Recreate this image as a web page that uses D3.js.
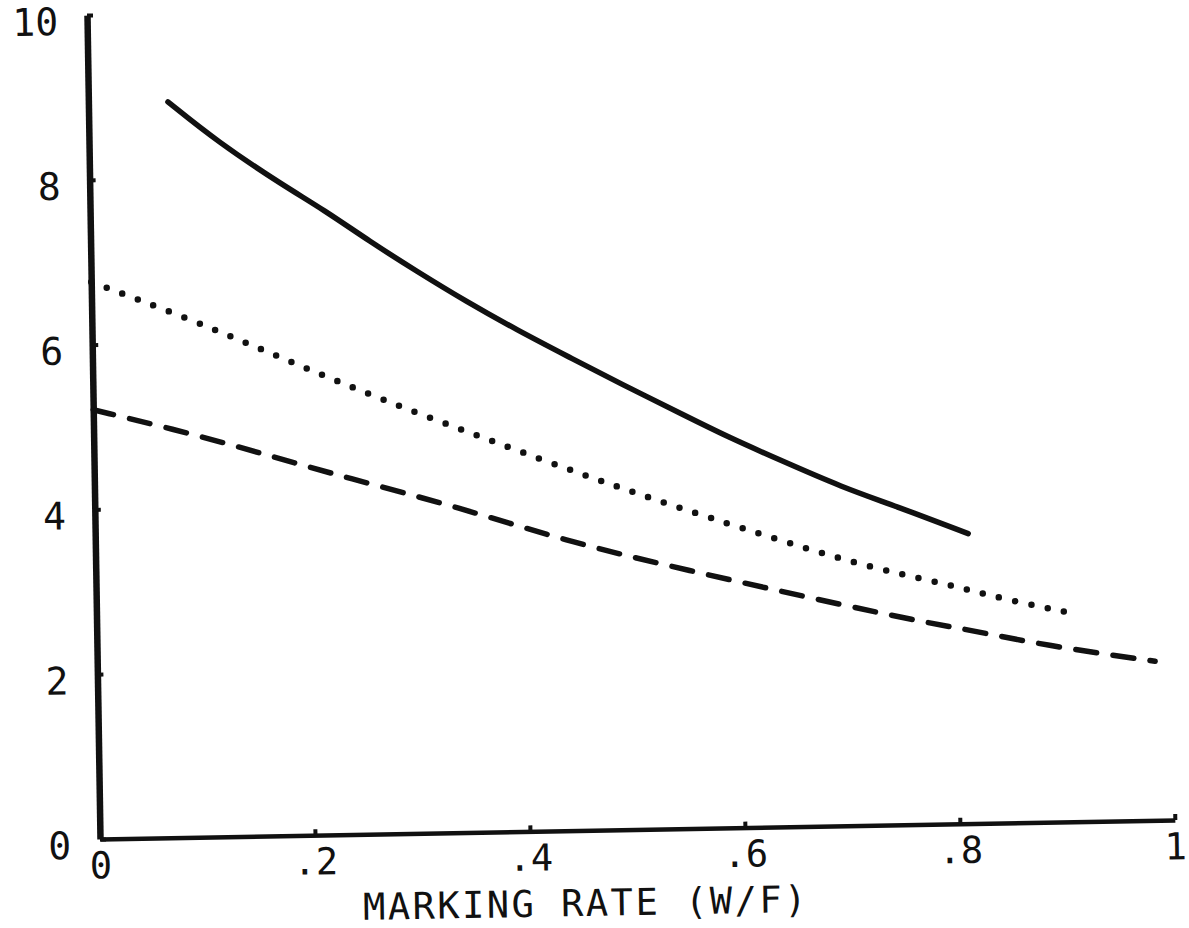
<!DOCTYPE html>
<html>
<head>
<meta charset="utf-8">
<script src="https://cdn.jsdelivr.net/npm/d3@7"></script>
<style>
  html, body { margin: 0; padding: 0; background: #fff; }
  svg text { font-family: "DejaVu Sans Mono", "Liberation Mono", monospace; fill: #111; }
</style>
</head>
<body>
<div id="chart"></div>
<script>
// values
const xTicks = [0, 0.2, 0.4, 0.6, 0.8, 1];
const xTickLabels = ['0', '.2', '.4', '.6', '.8', '1'];
const yTicks = [0, 2, 4, 6, 8, 10];
const yTickLabels = ['0', '2', '4', '6', '8', '10'];
const xTitle = 'MARKING RATE (W/F)';

// solid curve
const solidX = [0.074, 0.119, 0.180, 0.217, 0.260, 0.303, 0.349, 0.395, 0.443, 0.490, 0.552, 0.589, 0.635, 0.697, 0.743, 0.812];
const solidY = [8.93, 8.44, 7.89, 7.59, 7.19, 6.82, 6.44, 6.09, 5.75, 5.42, 5.00, 4.75, 4.47, 4.10, 3.88, 3.52];

// dotted curve
const dottedX = [0, 0.084, 0.157, 0.231, 0.309, 0.389, 0.450, 0.506, 0.569, 0.641, 0.717, 0.795, 0.843, 0.908];
const dottedY = [6.76, 6.33, 5.91, 5.48, 5.06, 4.65, 4.34, 4.07, 3.78, 3.46, 3.14, 2.90, 2.72, 2.53];

// dashed curve
const dashedX = [0, 0.091, 0.162, 0.235, 0.338, 0.444, 0.552, 0.662, 0.770, 0.805, 0.884, 0.984];
const dashedY = [5.21, 4.90, 4.62, 4.33, 3.95, 3.49, 3.13, 2.78, 2.45, 2.37, 2.14, 1.93];

const width = 1189;
const height = 928;
const plotW = 1075;
const plotH = 824;

const svg = d3.select('#chart').append('svg')
  .attr('width', width)
  .attr('height', height);

// the page was scanned a little crooked, so the plot sits in a slightly skewed frame
const chart = svg.append('g')
  .attr('transform', 'matrix(0.99984,-0.01767,0.01578,0.99988,100,839)');

// scales (origin of the group is the data origin)
const xScale = d3.scaleLinear().domain([0, 1]).range([0, plotW]);
const yScale = d3.scaleLinear().domain([0, 10]).range([0, -plotH]);

const xAxis = d3.axisBottom(xScale)
  .tickValues(xTicks)
  .tickFormat((d, i) => xTickLabels[i])
  .tickSizeInner(-6)
  .tickSizeOuter(0)
  .tickPadding(13);

const yAxis = d3.axisLeft(yScale)
  .tickValues(yTicks)
  .tickFormat((d, i) => yTickLabels[i])
  .tickSizeInner(-6)
  .tickSizeOuter(0)
  .tickPadding(29);

const gx = chart.append('g').attr('class', 'x axis').call(xAxis);
const gy = chart.append('g').attr('class', 'y axis').call(yAxis);

gx.select('.domain').attr('stroke', '#111').attr('stroke-width', 4.5);
gx.selectAll('.tick line').attr('stroke', '#111').attr('stroke-width', 4);
gx.selectAll('.tick text').attr('font-size', 37).attr('fill', '#111');

gy.select('.domain').attr('stroke', '#111').attr('stroke-width', 6.5);
gy.selectAll('.tick line').attr('stroke', '#111').attr('stroke-width', 4);
gy.selectAll('.tick text').attr('font-size', 38).attr('dy', '0.5em').attr('fill', '#111');

// axis title, kept clear of the bottom edge and the tick labels
chart.append('text')
  .attr('x', xScale(0.451))
  .attr('y', 85.5)
  .attr('text-anchor', 'middle')
  .attr('font-size', 37)
  .attr('letter-spacing', 2.5)
  .text(xTitle);

// lines
const line = d3.line()
  .x(d => xScale(d[0]))
  .y(d => yScale(d[1]))
  .curve(d3.curveBasis);

const series = [
  { xs: solidX, ys: solidY, dash: null, w: 5.5 },
  { xs: dottedX, ys: dottedY, dash: '0 16.6', w: 6.5 },
  { xs: dashedX, ys: dashedY, dash: '21 16.5', w: 5.5 }
];

chart.selectAll('path.curve')
  .data(series)
  .enter()
  .append('path')
  .attr('class', 'curve')
  .attr('d', s => line(s.xs.map((x, i) => [x, s.ys[i]])))
  .attr('fill', 'none')
  .attr('stroke', '#111')
  .attr('stroke-width', s => s.w)
  .attr('stroke-linecap', 'round')
  .attr('stroke-dasharray', s => s.dash);
</script>
</body>
</html>
